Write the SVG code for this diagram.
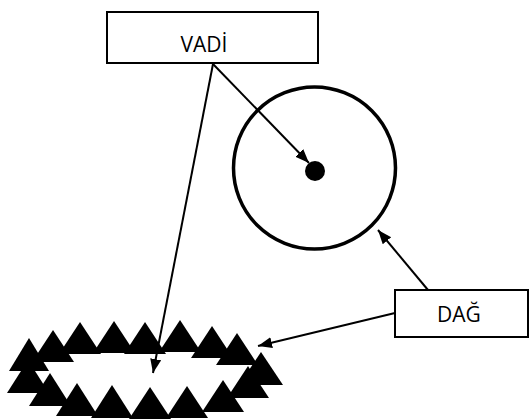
<svg xmlns="http://www.w3.org/2000/svg" width="530" height="420" viewBox="0 0 530 420">
<defs>
<style>
.box{fill:#fff;stroke:#000;stroke-width:2}
.lbl{font-family:"Open Sans","DejaVu Sans",sans-serif;font-size:21px;fill:#000;text-anchor:middle}
.conn{stroke:#000;stroke-width:2;fill:none;marker-end:url(#ah)}
.tri{fill:#000}
</style>
<marker id="ah" markerUnits="userSpaceOnUse" markerWidth="15" markerHeight="12" refX="14" refY="5.5" orient="auto">
<path d="M0,0 L14,5.5 L0,11 z" fill="#000"/>
</marker>
</defs>
<rect width="530" height="420" fill="#fff"/>
<g id="mountain-ring">
<polygon class="tri" points="28,360 7,393 49,393"/>
<polygon class="tri" points="50,373 29,406 71,406"/>
<polygon class="tri" points="77,383 56,416 98,416"/>
<polygon class="tri" points="112,385 91,418 133,418"/>
<polygon class="tri" points="150,387 129,419 171,419"/>
<polygon class="tri" points="187,386 166,418 208,418"/>
<polygon class="tri" points="223,380 202,412 244,412"/>
<polygon class="tri" points="248,366 227,398 269,398"/>
<polygon class="tri" points="261,352 239,385 283,385"/>
<polygon class="tri" points="237,333 216,365 258,365"/>
<polygon class="tri" points="212,326 191,358 233,358"/>
<polygon class="tri" points="180,320 159,352 201,352"/>
<polygon class="tri" points="145,322 124,354 166,354"/>
<polygon class="tri" points="114,321 93,353 135,353"/>
<polygon class="tri" points="80,322 59,354 101,354"/>
<polygon class="tri" points="53,330 32,362 74,362"/>
<polygon class="tri" points="29,338 9,371 49,371"/>
</g>
<g id="mountain-circle">
<circle cx="314.5" cy="168" r="81" fill="none" stroke="#000" stroke-width="3.5"/>
<circle cx="315" cy="171" r="10" fill="#000"/>
</g>
<g id="vadi">
<rect class="box" x="107" y="12" width="211" height="51"/>
<text class="lbl" x="204" y="52">VADİ</text>
</g>
<g id="dag">
<rect class="box" x="395" y="290" width="133" height="47"/>
<text class="lbl" x="459" y="322">DAĞ</text>
</g>
<g id="connectors">
<line class="conn" x1="213" y1="64" x2="153" y2="373"/>
<line class="conn" x1="213" y1="64" x2="309" y2="163"/>
<line class="conn" x1="428" y1="290" x2="378" y2="230"/>
<line class="conn" x1="395" y1="313" x2="258" y2="346"/>
</g>
</svg>
